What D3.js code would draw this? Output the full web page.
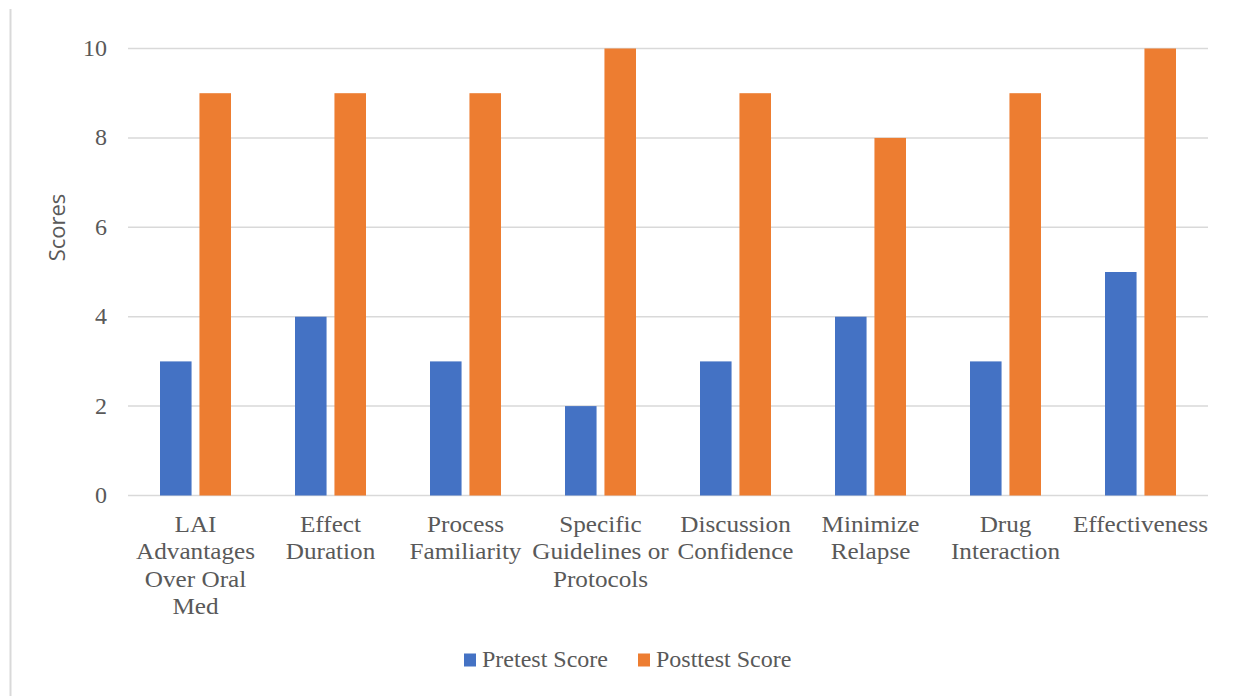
<!DOCTYPE html>
<html>
<head>
<meta charset="utf-8">
<script src="https://cdn.jsdelivr.net/npm/d3@7"></script>
<style>
  html, body { margin: 0; padding: 0; background: #fff; }
  svg { display: block; }
  svg text { font-family: "Liberation Serif", "Times New Roman", Times, serif; font-size: 24px; fill: #595959; }
  svg text.ytitle { font-family: "Open Sans", "Liberation Sans", sans-serif; font-size: 22px; }
</style>
</head>
<body>
<svg id="chart" width="1235" height="696"></svg>
<script>
const categories = [
  "LAI Advantages Over Oral Med",
  "Effect Duration",
  "Process Familiarity",
  "Specific Guidelines or Protocols",
  "Discussion Confidence",
  "Minimize Relapse",
  "Drug Interaction",
  "Effectiveness"
];
const categoryLines = [
  ["LAI", "Advantages", "Over Oral", "Med"],
  ["Effect", "Duration"],
  ["Process", "Familiarity"],
  ["Specific", "Guidelines or", "Protocols"],
  ["Discussion", "Confidence"],
  ["Minimize", "Relapse"],
  ["Drug", "Interaction"],
  ["Effectiveness"]
];
const seriesNames = ["Pretest Score", "Posttest Score"];
const pretest = [3, 4, 3, 2, 3, 4, 3, 5];
const posttest = [9, 9, 9, 10, 9, 8, 9, 10];
const yTicks = [0, 2, 4, 6, 8, 10];
const colors = ["#4472C4", "#ED7D31"];

const svg = d3.select("#chart");
const gridColor = "#d9d9d9";

// left border line
svg.append("line")
  .attr("x1", 10.5).attr("x2", 10.5).attr("y1", 9).attr("y2", 696)
  .attr("stroke", gridColor).attr("stroke-width", 2);

const x = d3.scaleBand().domain(categories).range([128, 1208]);
const x1 = d3.scaleBand().domain(seriesNames).range([-35.5, 35.5]).paddingInner(0.2);
const y = d3.scaleLinear().domain([0, 10]).range([495.5, 48.5]);

// gridlines
svg.append("g").selectAll("line").data(yTicks).join("line")
  .attr("x1", 128).attr("x2", 1208)
  .attr("y1", d => y(d)).attr("y2", d => y(d))
  .attr("stroke", gridColor).attr("stroke-width", 1.5);

// y tick labels
svg.append("g").selectAll("text").data(yTicks).join("text")
  .attr("x", 107).attr("y", d => y(d) + 7.5)
  .attr("text-anchor", "end")
  .text(d => d);

// bars
const series = [pretest, posttest];
series.forEach((vals, si) => {
  svg.append("g").selectAll("rect").data(vals).join("rect")
    .attr("x", (d, i) => x(categories[i]) + x.bandwidth() / 2 + x1(seriesNames[si]))
    .attr("width", x1.bandwidth())
    .attr("y", d => y(d))
    .attr("height", d => y(0) - y(d))
    .attr("fill", colors[si]);
});

// category labels
const catG = svg.append("g");
categories.forEach((c, i) => {
  const cx = x(c) + x.bandwidth() / 2;
  const t = catG.append("text")
    .attr("text-anchor", "middle")
    .attr("transform", `translate(${cx},531.5) scale(1.05,1)`);
  categoryLines[i].forEach((ln, li) => {
    t.append("tspan").attr("x", 0).attr("y", li * 27.6).text(ln);
  });
});

// y axis title
svg.append("text")
  .attr("class", "ytitle")
  .attr("transform", "translate(65,227.5) rotate(-90)")
  .attr("text-anchor", "middle")
  .text("Scores");

// legend
const legendItems = [
  { name: seriesNames[0], color: colors[0], x: 464 },
  { name: seriesNames[1], color: colors[1], x: 638 }
];
const lg = svg.append("g");
legendItems.forEach(it => {
  lg.append("rect").attr("x", it.x).attr("y", 653.5).attr("width", 12).attr("height", 13).attr("fill", it.color);
  lg.append("text").attr("x", it.x + 18).attr("y", 667).text(it.name);
});
</script>
</body>
</html>
